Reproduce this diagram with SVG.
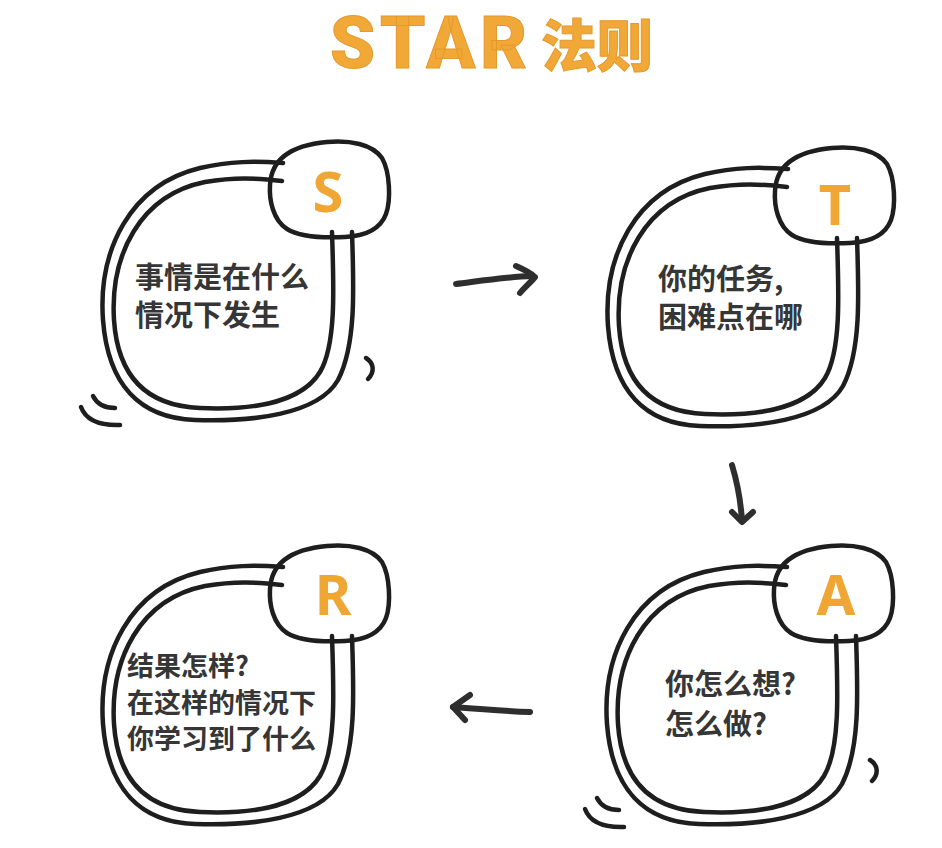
<svg xmlns="http://www.w3.org/2000/svg" xmlns:xlink="http://www.w3.org/1999/xlink" width="942" height="848" viewBox="0 0 942 848">
<style>
.ln{fill:none;stroke:#1e1e1e;stroke-width:4.5;stroke-linecap:round;stroke-linejoin:round}
.ar{fill:none;stroke:#2e2e2e;stroke-width:6;stroke-linecap:round;stroke-linejoin:round}
.body{font-family:"Noto Sans CJK SC","Noto Sans",sans-serif;font-weight:700;fill:#363636}
.tag{font-family:"Noto Sans","Noto Sans CJK SC",sans-serif;font-weight:700;font-size:56px;fill:#EFA632;text-anchor:middle}
.title{font-weight:900;fill:#F2A837;stroke:#E39A2C;stroke-width:1}
</style>
<defs>
<g id="frame">
<path class="ln" d="M352,232 C354,290 356,345 338,380 C318,415 250,422 195,420 C140,418 108,385 103,320 C98,250 130,185 200,168 C230,161 255,161 283,163"/>
<path class="ln" d="M332,232 C334,290 336,345 320,372 C300,405 245,410 200,408 C150,406 118,380 114,320 C110,255 140,195 205,182 C235,177 255,178 282,181"/>
<path class="ln" d="M327,142 C350,140 372,144 382,158 C390,172 391,200 386,214 C380,230 365,236 345,237 C325,238 300,237 287,229 C273,220 269,200 270,185 C271,165 283,146 327,142 Z"/>
</g>
<g id="deco">
<path class="ln" d="M366,358 C374,363 375,372 368,379"/>
<path class="ln" d="M93,396 Q99,408 115,408"/>
<path class="ln" d="M81,407 Q88,426 120,425"/>
</g>
</defs>
<rect width="942" height="848" fill="#ffffff"/>
<g id="title">
<text class="title" x="330" y="68" font-size="72" letter-spacing="5" font-family="Roboto, 'Noto Sans', sans-serif">STAR</text>
<text class="title" x="541" y="66" font-size="56" font-family="'Noto Sans CJK SC', sans-serif">法则</text>
</g>
<g id="node-S">
<use href="#frame"/>
<use href="#deco"/>
<text class="tag" x="328" y="212">S</text>
<text class="body" font-size="29" x="135" y="288">事情是在什么</text>
<text class="body" font-size="29" x="135" y="326">情况下发生</text>
</g>
<g id="node-T">
<use href="#frame" transform="translate(505,6)"/>
<text class="tag" x="835" y="225">T</text>
<text class="body" font-size="29" x="658" y="290">你的任务,</text>
<text class="body" font-size="29" x="658" y="328">困难点在哪</text>
</g>
<g id="node-A">
<use href="#frame" transform="translate(504,404)"/>
<use href="#deco" transform="translate(504,402)"/>
<text class="tag" x="836" y="615">A</text>
<text class="body" font-size="29" x="665" y="695">你怎么想?</text>
<text class="body" font-size="29" x="665" y="735">怎么做?</text>
</g>
<g id="node-R">
<use href="#frame" transform="translate(0,404)"/>
<text class="tag" x="333" y="615">R</text>
<text class="body" font-size="27" x="127" y="676">结果怎样?</text>
<text class="body" font-size="27" x="127" y="713">在这样的情况下</text>
<text class="body" font-size="27" x="127" y="749">你学习到了什么</text>
</g>
<g id="connectors">
<path class="ar" d="M456,284 C480,281 505,277 532,276"/>
<path class="ar" d="M516,266 C525,270 531,273 535,277 C530,283 524,288 520,293"/>
<path class="ar" d="M732,465 C738,485 741,505 742,521"/>
<path class="ar" d="M732,512 L742,522 L753,512"/>
<path class="ar" d="M530,712 C505,711 478,709 453,707"/>
<path class="ar" d="M470,695 L453,707 L465,720"/>
</g>
</svg>
